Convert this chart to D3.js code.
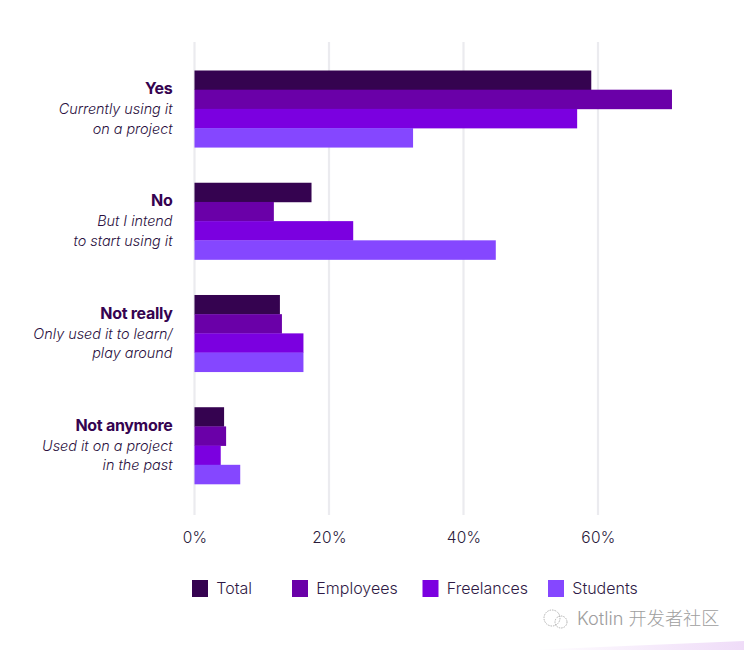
<!DOCTYPE html>
<html><head><meta charset="utf-8">
<script src="https://cdn.jsdelivr.net/npm/d3@7"></script>
<style>html,body{margin:0;padding:0;background:#fff}svg{display:block}text{font-family:Inter,"Noto Sans CJK SC",sans-serif}</style>
</head><body><script>
const categories = ["Yes","No","Not really","Not anymore"];
const subLines = [["Currently using it","on a project"],["But I intend","to start using it"],["Only used it to learn/","play around"],["Used it on a project","in the past"]];
const seriesNames = ["Total","Employees","Freelances","Students"];
const colors = ["#350350","#6a00a8","#7b00e0","#8547ff"];
const total = [59,17.4,12.7,4.4];
const employees = [71,11.8,13,4.7];
const freelances = [56.9,23.6,16.2,3.9];
const students = [32.5,44.8,16.2,6.8];
const values = [total,employees,freelances,students];
const ticks = [0,20,40,60];
const legendX = [192,292,422.5,548];

const svg = d3.select("body").append("svg").attr("width",744).attr("height",650);
const defs = svg.append("defs");
const g = defs.append("linearGradient").attr("id","wedge").attr("x1","0").attr("x2","1");
g.append("stop").attr("offset","0").attr("stop-color","#fff");
g.append("stop").attr("offset","1").attr("stop-color","#efdcf8");
svg.append("path").attr("d","M530,650L744,641L744,650Z").attr("fill","url(#wedge)");

const x = d3.scaleLinear().domain([0,60]).range([194.5,598]);
const y = d3.scaleBand().domain(categories).range([70.5,484]).paddingInner(0.316);
const yInner = d3.scaleBand().domain(seriesNames).range([0,y.bandwidth()]);

svg.append("g").selectAll("line").data(ticks).join("line")
  .attr("x1",d=>x(d)).attr("x2",d=>x(d)).attr("y1",42).attr("y2",515)
  .attr("stroke","#ebebef").attr("stroke-width",2.2);

seriesNames.forEach((s,si)=>{
  svg.append("g").selectAll("rect").data(categories).join("rect")
    .attr("x",x(0)).attr("y",c=>y(c)+yInner(s))
    .attr("width",(c,i)=>x(values[si][i])-x(0)).attr("height",yInner.bandwidth()+0.3)
    .attr("fill",colors[si]);
});

const labels = svg.append("g").selectAll("g").data(categories).join("g")
  .attr("transform",c=>`translate(172.5,${y(c)})`).attr("text-anchor","end");
labels.append("text").attr("y",23.6).attr("font-size",16).attr("font-weight",700).attr("fill","#350350").attr("letter-spacing","-0.3").text(d=>d);
labels.each(function(c,i){
  d3.select(this).selectAll("text.sub").data(subLines[i]).join("text").attr("class","sub")
    .attr("y",(d,j)=>43.6+j*19.5).attr("font-size",14.4).attr("font-style","italic").attr("font-weight",300)
    .attr("fill","#2a0f40").text(d=>d);
});

svg.append("g").selectAll("text").data(ticks).join("text")
  .attr("x",d=>x(d)+0.5).attr("y",543).attr("text-anchor","middle")
  .attr("font-size",15.5).attr("font-weight",300).attr("letter-spacing","0.3").attr("fill","#2a1a3a").text(d=>d+"%");

const leg = svg.append("g").selectAll("g").data(seriesNames).join("g")
  .attr("transform",(d,i)=>`translate(${legendX[i]},580)`);
leg.append("rect").attr("width",16).attr("height",17).attr("fill",(d,i)=>colors[i]);
leg.append("text").attr("x",24.3).attr("y",14).attr("font-size",16).attr("font-weight",300).attr("fill","#2f1a45").text(d=>d);

svg.append("text").attr("x",577).attr("y",625).attr("font-size",18.2).attr("fill","#9e9e9e").attr("font-weight",300).text("Kotlin 开发者社区");
const wm = svg.append("g").attr("fill","none").attr("stroke","#a8a8a8").attr("stroke-width",0.9).attr("stroke-dasharray","1.5 1");
wm.append("circle").attr("cx",552).attr("cy",618).attr("r",8);
wm.append("circle").attr("cx",561).attr("cy",622).attr("r",6);
</script></body></html>
